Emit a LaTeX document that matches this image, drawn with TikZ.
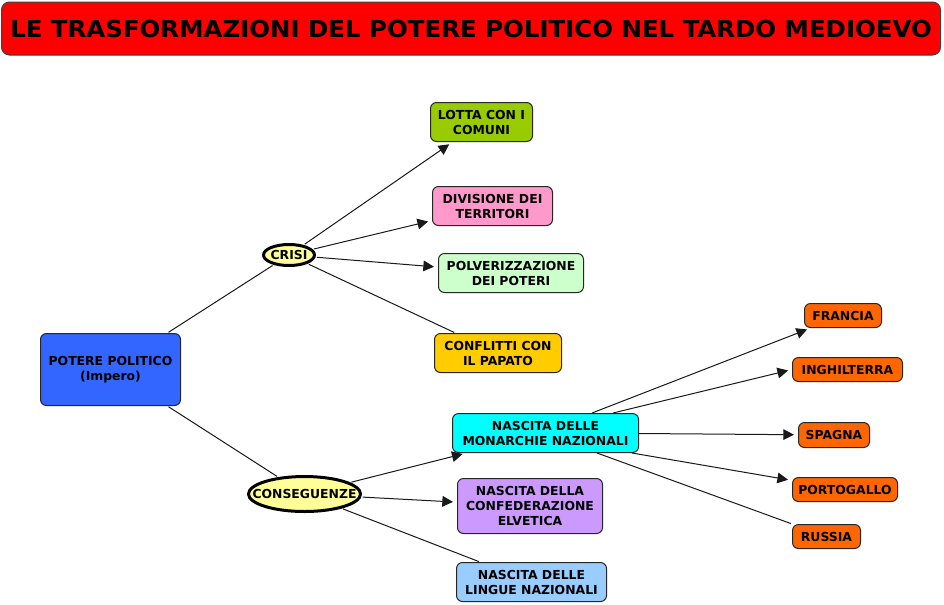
\documentclass[tikz,border=0pt]{standalone}
\usepackage{fontspec}
\setmainfont{DejaVu Sans}
\newfontfamily\titlefont{DejaVu Sans Condensed}
\usetikzlibrary{arrows.meta,shapes.geometric}
\definecolor{cTitle}{HTML}{FF0000}
\definecolor{cBlue}{HTML}{3366FF}
\definecolor{cYel}{HTML}{FFFF99}
\definecolor{cGreen}{HTML}{99CC00}
\definecolor{cPink}{HTML}{FF99CC}
\definecolor{cMint}{HTML}{CCFFCC}
\definecolor{cGold}{HTML}{FFCC00}
\definecolor{cCyan}{HTML}{00FFFF}
\definecolor{cLav}{HTML}{CC99FF}
\definecolor{cSky}{HTML}{99CCFF}
\definecolor{cOrange}{HTML}{FF6600}
\begin{document}
\begin{tikzpicture}[x=0.75pt,y=-0.75pt,
  sz/.style 2 args={minimum width=#1*0.75pt, minimum height=#2*0.75pt},
  box/.style={draw=black!85, line width=0.75pt, rounded corners=4.5pt, align=center,
    inner sep=0pt, font=\fontsize{9.3pt}{11.25pt}\selectfont\bfseries, text=black},
  oval/.style={ellipse, draw=black, line width=2.25pt, fill=cYel, inner sep=0pt,
    font=\fontsize{9.3pt}{11.25pt}\selectfont\bfseries, text=black},
  link/.style={line width=0.75pt, draw=black!90, shorten <=1pt, shorten >=1pt},
  arr/.style={link, -{Triangle[length=8pt,width=8pt]}, shorten >=3pt}]
\useasboundingbox (0,0) rectangle (944,604);
\fill[white] (0,0) rectangle (944,604);

\node[draw=black!75, line width=0.75pt, fill=cTitle, rounded corners=6pt, sz={939}{53}, inner sep=0pt]
  (title) at (471,28.5) {\resizebox{691pt}{13pt}{\titlefont\bfseries LE TRASFORMAZIONI DEL POTERE POLITICO NEL TARDO MEDIOEVO}};

\node[box, fill=cBlue, sz={140}{72}] (potere) at (110.5,369.5) {POTERE POLITICO\\(Impero)};
\node[oval, sz={51}{21}] (crisi) at (289,255) {\makebox[0pt]{CRISI}};
\node[oval, sz={112}{35}] (cons) at (304.5,494) {\makebox[0pt]{CONSEGUENZE}};

\node[box, fill=cGreen, sz={102}{39}] (lotta) at (481.5,122) {LOTTA CON I\\COMUNI};
\node[box, fill=cPink, sz={120}{39}] (divis) at (492.5,206) {DIVISIONE DEI\\TERRITORI};
\node[box, fill=cMint, sz={145}{39}] (polv) at (511,273) {POLVERIZZAZIONE\\DEI POTERI};
\node[box, fill=cGold, sz={127}{39}] (confl) at (498,353) {CONFLITTI CON\\IL PAPATO};

\node[box, fill=cCyan, sz={186}{39}] (mon) at (545.5,433) {NASCITA DELLE\\MONARCHIE NAZIONALI};
\node[box, fill=cLav, sz={145}{55}] (elv) at (530,506) {NASCITA DELLA\\CONFEDERAZIONE\\ELVETICA};
\node[box, fill=cSky, sz={150}{39}] (ling) at (531.5,582) {NASCITA DELLE\\LINGUE NAZIONALI};

\node[box, fill=cOrange, sz={77}{24}] (fra) at (843,315.5) {FRANCIA};
\node[box, fill=cOrange, sz={110}{24}] (ing) at (847.5,369.5) {INGHILTERRA};
\node[box, fill=cOrange, sz={71}{25}] (spa) at (834,435) {SPAGNA};
\node[box, fill=cOrange, sz={105}{24}] (por) at (845,489.5) {PORTOGALLO};
\node[box, fill=cOrange, sz={68}{24}] (rus) at (826.5,536.5) {RUSSIA};

\coordinate (mFra) at ([xshift=-47*0.75pt]mon.north east);
\coordinate (mIng) at ([xshift=-26*0.75pt]mon.north east);
\coordinate (mSpa) at ([yshift=-0.5*0.75pt]mon.east);
\coordinate (mPor) at ([xshift=-7*0.75pt]mon.south east);
\coordinate (mRus) at ([xshift=-42*0.75pt]mon.south east);

\draw[link] (potere) -- (crisi);
\draw[link] (potere) -- (cons);
\draw[arr] (crisi) -- (lotta);
\draw[arr] (crisi) -- (divis);
\draw[arr] (crisi) -- (polv);
\draw[link] (crisi) -- (confl);
\draw[arr] (cons) -- (mon);
\draw[arr] (cons) -- (elv);
\draw[link] (cons) -- (ling);
\draw[arr, shorten <=0pt] (mFra) -- (fra);
\draw[arr, shorten <=0pt] (mIng) -- (ing.west);
\draw[arr, shorten <=0pt] (mSpa) -- (spa);
\draw[arr, shorten <=0pt] (mPor) -- (por);
\draw[link, shorten <=0pt] (mRus) -- (rus);
\end{tikzpicture}
\end{document}
